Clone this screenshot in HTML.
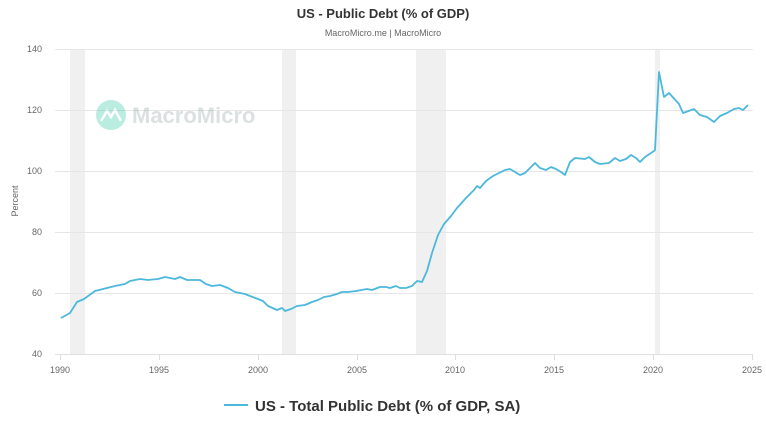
<!DOCTYPE html>
<html><head><meta charset="utf-8"><style>
body{margin:0;background:#fff;width:766px;height:433px;overflow:hidden;font-family:"Liberation Sans",sans-serif}
</style></head><body>
<svg width="766" height="433" xmlns="http://www.w3.org/2000/svg" font-family="Liberation Sans, sans-serif">
<text x="383" y="18" text-anchor="middle" font-size="13" font-weight="bold" fill="#333">US - Public Debt (% of GDP)</text>
<text x="383" y="36" text-anchor="middle" font-size="9" fill="#666">MacroMicro.me | MacroMicro</text>
<g fill="#f0f0f0">
<rect x="70" y="49" width="15" height="305"/>
<rect x="282" y="49" width="14" height="305"/>
<rect x="416" y="49" width="30" height="305"/>
<rect x="655" y="49" width="5" height="305"/>
</g>
<g stroke="#e6e6e6" stroke-width="1">
<line x1="55" x2="753" y1="49.5" y2="49.5"/><line x1="55" x2="753" y1="110.5" y2="110.5"/>
<line x1="55" x2="753" y1="171.5" y2="171.5"/><line x1="55" x2="753" y1="232.5" y2="232.5"/>
<line x1="55" x2="753" y1="293.5" y2="293.5"/>
</g>
<line x1="55" x2="753" y1="354.5" y2="354.5" stroke="#e0e0e0"/>
<g stroke="#ddd">
<line x1="60.5" x2="60.5" y1="355" y2="360"/><line x1="159.5" x2="159.5" y1="355" y2="360"/>
<line x1="258.5" x2="258.5" y1="355" y2="360"/><line x1="357.5" x2="357.5" y1="355" y2="360"/>
<line x1="455.5" x2="455.5" y1="355" y2="360"/><line x1="554.5" x2="554.5" y1="355" y2="360"/>
<line x1="653.5" x2="653.5" y1="355" y2="360"/><line x1="752.5" x2="752.5" y1="355" y2="360"/>
</g>
<g font-size="9" fill="#666" text-anchor="end">
<text x="42" y="52">140</text><text x="42" y="113">120</text><text x="42" y="174">100</text>
<text x="42" y="235">80</text><text x="42" y="296">60</text><text x="42" y="357">40</text>
</g>
<text transform="translate(18,201) rotate(-90)" text-anchor="middle" font-size="9" fill="#666">Percent</text>
<g font-size="9" fill="#666" text-anchor="middle">
<text x="60" y="373">1990</text><text x="159" y="373">1995</text><text x="258" y="373">2000</text>
<text x="357" y="373">2005</text><text x="455" y="373">2010</text><text x="554" y="373">2015</text>
<text x="653" y="373">2020</text><text x="752" y="373">2025</text>
</g>
<g opacity="0.35">
<circle cx="111" cy="115" r="15" fill="#3cc9a5"/>
<path d="M101 121 L107 111 L111 117 L115 110 L121 121" stroke="#fff" stroke-width="2.5" fill="none"/>
<text x="132" y="123" font-size="22" font-weight="bold" fill="#9aa">MacroMicro</text>
</g>
<polyline fill="none" stroke="#4cb8dc" stroke-width="1.8" stroke-linejoin="round" points="61,318 70,313 77,302 84,299 95,291 103,289 115,286 125,284 130,281 140,279 148,280 158,279 165,277 175,279 180,277 187,280 200,280 206,284 212,286 220,285 228,288 235,292 245,294 250,296 258,299 263,301 268,306 277,310 282,308 285,311 291,309 297,306 305,305 312,302 318,300 324,297 330,296 337,294 342,292 348,292 356,291 367,289 372,290 380,287 386,287 390,288 396,286 400,288 406,288 412,286 417,281 422,282 427,271 432,253 438,235 444,224 451,216 457,208 466,198 474,190 477,186 480,188 486,181 493,176 505,170 510,169 515,172 520,175 525,173 535,163 540,168 546,170 551,167 556,169 561,172 565,175 570,162 575,158 585,159 589,157 595,162 600,164 609,163 615,158 620,161 626,159 631,155 636,158 640,162 645,157 654,151 655,150 659,72 664,97 669,93 679,104 683,113 694,109 700,115 707,117 714,122 720,116 727,113 734,109 739,108 743,110 748,105"/>
<line x1="224" x2="248" y1="405" y2="405" stroke="#4cb8dc" stroke-width="2"/>
<text x="255" y="411" font-size="15" font-weight="bold" fill="#333">US - Total Public Debt (% of GDP, SA)</text>
</svg>
</body></html>
